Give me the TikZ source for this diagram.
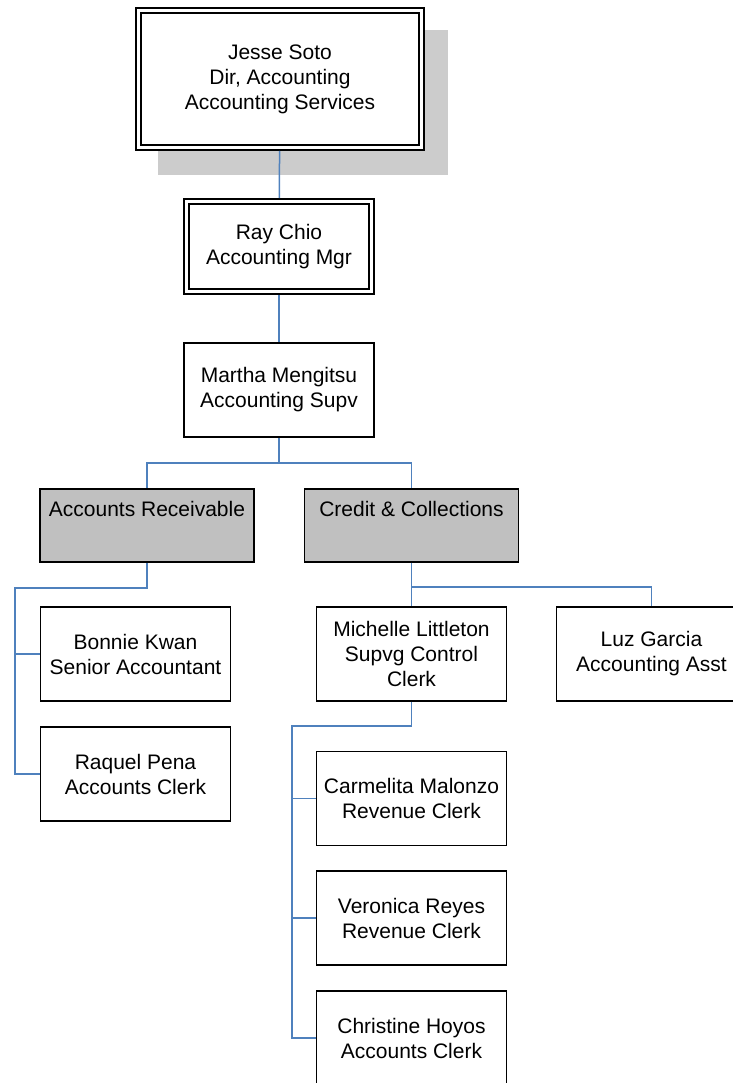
\documentclass[tikz,border=0pt]{standalone}
\usepackage{fontspec}
\setmainfont{Liberation Sans}
\usetikzlibrary{positioning}
\definecolor{linkblue}{RGB}{79,129,189}
\definecolor{shadowgray}{RGB}{204,204,204}
\definecolor{unitgray}{RGB}{192,192,192}

\begin{document}
\begin{tikzpicture}[
  x=1pt,y=-1pt,
  person/.style={draw,line width=1.8pt,fill=white,align=center,
    font=\fontsize{21}{25}\selectfont,inner sep=0pt,
    minimum width=190pt,minimum height=94pt},
  boss/.style={person,double,double distance=3pt,outer sep=3.3pt},
  unit/.style={person,fill=unitgray,minimum width=214pt,minimum height=73pt},
  link/.style={draw=linkblue,line width=1.5pt}
]
\useasboundingbox (0,0) rectangle (732,1083);
% drop shadow of the top box
\fill[shadowgray] (158,30) rectangle (448,175);

\node[boss,minimum width=283.4pt,minimum height=137.4pt] (jesse) at (280,79)
  {Jesse Soto\\Dir, Accounting\\Accounting Services};
\node[boss,minimum width=185.4pt,minimum height=90.4pt] (ray) at (279,246.5)
  {Ray Chio\\Accounting Mgr};
\node[person] (martha) at (279,390) {Martha Mengitsu\\Accounting Supv};

\node[unit] (ar) at (147,525.5) {Accounts Receivable\\\strut};
\node[unit] (cc) at (411.5,525.5) {Credit \& Collections\\\strut};

\node[person] (bonnie) at (135.5,654) {Bonnie Kwan\\Senior Accountant};
\node[person] (raquel) at (135.5,774) {Raquel Pena\\Accounts Clerk};

\node[person] (michelle) at (411.5,654) {Michelle Littleton\\Supvg Control\\Clerk};
\node[person] (luz) at (651.5,654) {Luz Garcia\\Accounting Asst};

\node[person] (carmelita) at (411.5,798.5) {Carmelita Malonzo\\Revenue Clerk};
\node[person] (veronica) at (411.5,918) {Veronica Reyes\\Revenue Clerk};
\node[person] (christine) at (411.5,1038) {Christine Hoyos\\Accounts Clerk};

\coordinate (arbus) at (15,588);
\coordinate (mlbus) at (292,726);

\draw[link] (jesse) -- (ray);
\draw[link] (ray) -- (martha);
\draw[link] (martha.south) -- ++(0,25) -| (ar.north);
\draw[link] (martha.south) -- ++(0,25) -| (cc.north);
\draw[link] (ar.south) |- (arbus) |- (raquel.west);
\draw[link] (arbus) |- (bonnie.west);
\draw[link] (cc) -- (michelle);
\draw[link] (cc.south) -- ++(0,24) -| (luz.north);
\draw[link] (michelle.south) |- (mlbus) |- (christine.west);
\draw[link] (mlbus) |- (carmelita.west);
\draw[link] (mlbus) |- (veronica.west);
\end{tikzpicture}
\end{document}
